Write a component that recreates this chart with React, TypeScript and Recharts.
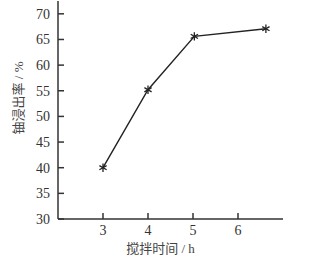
import { LineChart, Line, XAxis, YAxis } from 'recharts'

// stirring time (h) and uranium leaching rate (%)
const times = [3, 4, 5.03, 6.62]
const rates = [40, 55.2, 65.6, 67.1]
const xTicks = [3, 4, 5, 6]
const yTicks = [30, 35, 40, 45, 50, 55, 60, 65, 70]

const data = times.map((t, i) => ({ t, rate: rates[i] }))

const AXIS = '#333'
const FONT = '"Liberation Serif", "DejaVu Serif", serif'
const CJK = '"Liberation Serif", "Noto Sans CJK SC", serif'

function Star(props: any) {
  const { cx, cy } = props
  if (cx == null || cy == null) return null
  const r = 4.2
  const a = Math.cos(Math.PI / 6) * r
  const b = Math.sin(Math.PI / 6) * r
  return (
    <g stroke="#222" strokeWidth={1.3}>
      <line x1={cx} y1={cy - r} x2={cx} y2={cy + r} />
      <line x1={cx - a} y1={cy - b} x2={cx + a} y2={cy + b} />
      <line x1={cx - a} y1={cy + b} x2={cx + a} y2={cy - b} />
    </g>
  )
}

export default function App() {
  return (
    <div style={{ position: 'absolute', left: 0, top: 0, background: '#fff' }}>
      <LineChart width={324} height={260} data={data} margin={{ top: 1, right: 41, bottom: 11, left: 0 }}>
        <XAxis
          type="number"
          dataKey="t"
          domain={[2, 7]}
          ticks={xTicks}
          allowDataOverflow
          height={30}
          stroke={AXIS}
          strokeWidth={1.5}
          tickSize={-6}
          tickMargin={12}
          tick={{ fill: AXIS, fontSize: 14, fontFamily: FONT }}
          label={({ viewBox }: any) => (
            <text
              x={viewBox.x + viewBox.width / 2 - 10}
              y={viewBox.y + 34}
              textAnchor="middle"
              fill="#444"
              fontSize={13}
              fontFamily={CJK}
            >
              搅拌时间 / h
            </text>
          )}
        />
        <YAxis
          type="number"
          domain={[30, 72.5]}
          ticks={yTicks}
          allowDataOverflow
          width={58}
          stroke={AXIS}
          strokeWidth={1.5}
          tickSize={-6}
          tickMargin={14}
          tick={{ fill: AXIS, fontSize: 14, fontFamily: FONT }}
          label={({ viewBox }: any) => {
            const x = viewBox.x + 18
            const y = viewBox.y + viewBox.height / 2 - 12
            return (
              <text
                x={x}
                y={y}
                transform={`rotate(-90, ${x}, ${y})`}
                textAnchor="middle"
                dominantBaseline="central"
                fill="#444"
                fontSize={13}
                fontFamily={CJK}
              >
                铀浸出率 / %
              </text>
            )
          }}
        />
        <Line
          type="linear"
          dataKey="rate"
          stroke="#222"
          strokeWidth={1.4}
          dot={<Star />}
          activeDot={false}
          isAnimationActive={false}
        />
      </LineChart>
    </div>
  )
}
